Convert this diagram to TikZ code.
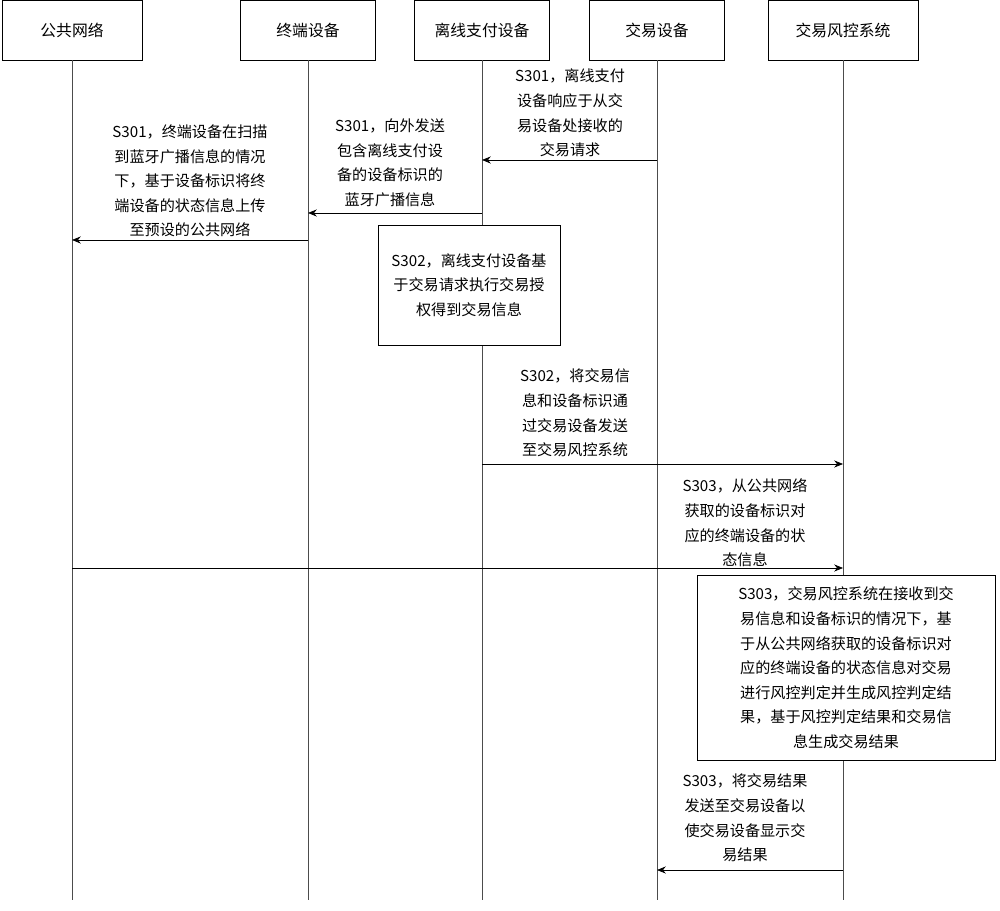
\documentclass[tikz,border=0pt]{standalone}
\usepackage{fontspec}
\setmainfont{Noto Sans CJK SC}
\usetikzlibrary{arrows.meta}
\begin{document}
\begin{tikzpicture}[x=0.02cm,y=-0.02cm,
 hdr/.style={draw,minimum width=2.7cm,minimum height=1.2cm,font=\fontsize{9}{11}\selectfont},
 lbl/.style={align=center,font=\fontsize{8.6}{14}\selectfont,inner sep=0pt},
 msg/.style={-{Stealth[length=5pt,width=4pt]},thin},
 life/.style={thin,black!70}]
\useasboundingbox (0,0) rectangle (1000,911);
\node[hdr,minimum width=2.8cm] (h1) at (72,30) {公共网络};
\node[hdr] (h2) at (308,30) {终端设备};
\node[hdr] (h3) at (482,30) {离线支付设备};
\node[hdr] (h4) at (657,30) {交易设备};
\node[hdr,minimum width=3cm] (h5) at (843,30) {交易风控系统};
\foreach \i/\x in {1/72,2/308,3/482,4/657,5/843}{
 \coordinate (b\i) at (\x,900);
 \draw[life] (h\i.south) -- (b\i);}
\coordinate (m1s) at (657,160); \coordinate (m1e) at (482,160);
\draw[msg] (m1s) -- (m1e);
\node[lbl] (t1) at (570,113) {S301，离线支付\\设备响应于从交\\易设备处接收的\\交易请求};
\coordinate (m2s) at (482,213); \coordinate (m2e) at (308,213);
\draw[msg] (m2s) -- (m2e);
\node[lbl] (t2) at (390,163) {S301，向外发送\\包含离线支付设\\备的设备标识的\\蓝牙广播信息};
\coordinate (m3s) at (308,240); \coordinate (m3e) at (72,240);
\draw[msg] (m3s) -- (m3e);
\node[lbl] (t3) at (190,181) {S301，终端设备在扫描\\到蓝牙广播信息的情况\\下，基于设备标识将终\\端设备的状态信息上传\\至预设的公共网络};
\node[draw,fill=white,minimum width=3.64cm,minimum height=2.4cm,lbl] (p1) at (469,285) {S302，离线支付设备基\\于交易请求执行交易授\\权得到交易信息};
\coordinate (m4s) at (482,464); \coordinate (m4e) at (843,464);
\draw[msg] (m4s) -- (m4e);
\node[lbl] (t4) at (575,413) {S302，将交易信\\息和设备标识通\\过交易设备发送\\至交易风控系统};
\coordinate (m5s) at (72,568); \coordinate (m5e) at (843,568);
\draw[msg] (m5s) -- (m5e);
\node[lbl] (t5) at (745,523) {S303，从公共网络\\获取的设备标识对\\应的终端设备的状\\态信息};
\node[draw,fill=white,minimum width=5.96cm,minimum height=3.7cm,lbl] (p2) at (846,668) {S303，交易风控系统在接收到交\\易信息和设备标识的情况下，基\\于从公共网络获取的设备标识对\\应的终端设备的状态信息对交易\\进行风控判定并生成风控判定结\\果，基于风控判定结果和交易信\\息生成交易结果};
\coordinate (m6s) at (843,870); \coordinate (m6e) at (657,870);
\draw[msg] (m6s) -- (m6e);
\node[lbl] (t6) at (745,818) {S303，将交易结果\\发送至交易设备以\\使交易设备显示交\\易结果};
\end{tikzpicture}
\end{document}
